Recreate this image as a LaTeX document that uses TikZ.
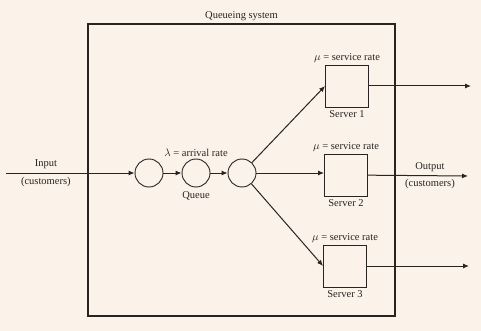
\documentclass[tikz,border=0pt]{standalone}
\usepackage{fontspec}
\setmainfont{Liberation Serif}
\usepackage{tikz}
\usetikzlibrary{arrows.meta,positioning}
\definecolor{paper}{RGB}{251,242,234}
\definecolor{ink}{RGB}{40,36,34}

\begin{document}
\begin{tikzpicture}[x=1pt,y=-1pt,
  every node/.style={font=\fontsize{10.5}{12}\selectfont, text=ink},
  sysbox/.style={draw=ink, line width=1.3pt, minimum width=307pt, minimum height=292pt, inner sep=0pt},
  qcirc/.style={draw=ink, circle, minimum size=28pt, inner sep=0pt, line width=0.9pt},
  server/.style={draw=ink, minimum width=43pt, minimum height=42pt, inner sep=0pt, line width=0.9pt},
  arr/.style={-{Latex[length=6pt,width=5pt]}, line width=1pt, color=ink}
]
  \useasboundingbox[fill=paper] (0,0) rectangle (481,331);

  % queueing system frame
  \node[sysbox, label={[inner sep=2pt]above:Queueing system}] (sys) at (241.5,170) {};

  % queue
  \node[qcirc] (c1) at (149,173) {};
  \node[qcirc, label={[inner sep=2pt]above:$\lambda$ = arrival rate}, label={[inner sep=4pt]below:Queue}] (c2) at (196,173) {};
  \node[qcirc] (c3) at (242,173) {};

  % servers
  \node[server, label={[inner sep=2pt]above:$\mu$ = service rate}, label={[inner sep=2.5pt]below:Server 1}] (s1) at (347,86) {};
  \node[server, label={[inner sep=2pt]above:$\mu$ = service rate}, label={[inner sep=2.5pt]below:Server 2}] (s2) at (346,175) {};
  \node[server, label={[inner sep=2pt]above:$\mu$ = service rate}, label={[inner sep=2.5pt]below:Server 3}] (s3) at (345,266) {};

  \coordinate (in) at (6,173);
  \coordinate (o1) at (471,86);
  \coordinate (o2) at (468,176);
  \coordinate (o3) at (469,266);

  \draw[arr] (in) -- node[above,pos=0.31]{Input} node[below,pos=0.31]{(customers)} (c1);
  \draw[arr] (c1) -- (c2);
  \draw[arr] (c2) -- (c3);
  \draw[arr] (c3) -- (s1.west);
  \draw[arr] (c3) -- (c3 -| s2.west);
  \draw[arr] (c3) -- (s3.west);

  \draw[arr] (s1) -- (o1);
  \draw[arr] (s2) -- node[above,pos=0.62]{Output} node[below,pos=0.62]{(customers)} (o2);
  \draw[arr] (s3) -- (o3);
\end{tikzpicture}
\end{document}
